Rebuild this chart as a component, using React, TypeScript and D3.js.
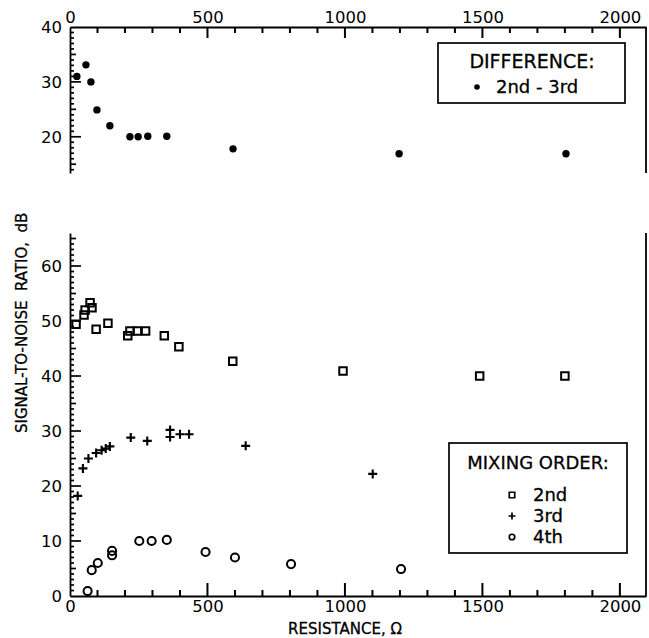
import React, { useEffect, useRef } from 'react';
import * as d3 from 'd3';

// difference 2nd - 3rd (top panel)
const diffR = [25, 58, 76, 98, 145, 218, 248, 283, 352, 593, 1197, 1804];
const diffDb = [31, 33.1, 30, 24.9, 22, 20, 20, 20.1, 20.1, 17.8, 16.9, 16.9];

// mixing order (bottom panel)
const secondR = [22, 51, 55, 73, 80, 95, 138, 210, 218, 245, 275, 343, 396, 592, 993, 1490, 1800];
const secondDb = [49.4, 51.1, 52, 53.3, 52.4, 48.5, 49.6, 47.3, 48.2, 48.2, 48.2, 47.3, 45.3, 42.7, 40.9, 40, 40];

const thirdR = [28, 47, 67, 95, 115, 130, 145, 221, 281, 364, 364, 400, 433, 639, 1101];
const thirdDb = [18.2, 23.2, 25, 26, 26.5, 26.8, 27.2, 28.8, 28.2, 30.2, 28.9, 29.4, 29.4, 27.3, 22.2];

const fourthR = [64, 79, 101, 153, 153, 252, 297, 352, 493, 600, 804, 1204];
const fourthDb = [0.9, 4.7, 6, 8.2, 7.4, 10, 10, 10.2, 8, 7, 5.8, 4.9];

const xTicks = [0, 500, 1000, 1500, 2000];
const topYTicks = [20, 30, 40];
const bottomYTicks = [0, 10, 20, 30, 40, 50, 60];
const legendOrders = ['2nd', '3rd', '4th'];

const FONT = 'DejaVu Sans, sans-serif';
const INK = '#000';

const App = () => {
  const d3Container = useRef(null);

  useEffect(() => {
    if (d3Container.current) {
      drawChart(d3Container.current);
    }
  }, []);

  return <div ref={d3Container} />;
};

function drawChart(container) {
  d3.select(container).selectAll('*').remove();

  const width = 649;
  const height = 638;

  const svg = d3.select(container).append('svg')
    .attr('width', width)
    .attr('height', height)
    .style('position', 'absolute')
    .style('left', 0)
    .style('top', 0)
    .style('background', '#fff')
    .style('font-family', FONT);

  const x = d3.scaleLinear().domain([0, 2095]).range([70, 646]);
  const yTop = d3.scaleLinear().domain([13.4, 40]).range([173, 27]);
  const yBot = d3.scaleLinear().domain([0, 66]).range([596, 233]);
  const fmt = d3.format('d');

  const minorX = d3.range(100, 2001, 100);

  const styleAxis = g => {
    g.selectAll('path, line').attr('stroke', INK).attr('stroke-width', 1.8);
    g.selectAll('text').attr('fill', INK).style('font-family', FONT).style('font-size', '16.5px');
  };

  // ---- axis lines and labels
  svg.append('g')
    .attr('transform', `translate(0,${yTop(40)})`)
    .call(d3.axisTop(x).tickValues(xTicks).tickSize(0).tickSizeOuter(0).tickPadding(4).tickFormat(fmt))
    .call(styleAxis);
  svg.append('g')
    .attr('transform', `translate(${x(0)},0)`)
    .call(d3.axisLeft(yTop).tickValues(topYTicks).tickSize(0).tickSizeOuter(0).tickPadding(8).tickFormat(fmt))
    .call(styleAxis);
  svg.append('line')
    .attr('x1', x.range()[1]).attr('x2', x.range()[1])
    .attr('y1', yTop(40)).attr('y2', yTop.range()[0])
    .attr('stroke', INK).attr('stroke-width', 1.8);

  svg.append('g')
    .attr('transform', `translate(0,${yBot(0)})`)
    .call(d3.axisBottom(x).tickValues(xTicks).tickSize(0).tickSizeOuter(0).tickPadding(4).tickFormat(fmt))
    .call(styleAxis);
  svg.append('g')
    .attr('transform', `translate(${x(0)},0)`)
    .call(d3.axisLeft(yBot).tickValues(bottomYTicks).tickSize(0).tickSizeOuter(0).tickPadding(8).tickFormat(fmt))
    .call(styleAxis);
  svg.append('line')
    .attr('x1', x.range()[1]).attr('x2', x.range()[1])
    .attr('y1', yBot.range()[1]).attr('y2', yBot(0))
    .attr('stroke', INK).attr('stroke-width', 1.8);

  // ---- marks
  svg.append('g').selectAll('circle')
    .data(d3.zip(diffR, diffDb))
    .enter().append('circle')
    .attr('cx', d => x(d[0])).attr('cy', d => yTop(d[1]))
    .attr('r', 3.7).attr('fill', INK);

  const square = d3.symbol(d3.symbolSquare, 56)();
  const ring = d3.symbol(d3.symbolCircle, 52)();
  const plus = 'M-4.5,0H4.5M0,-4.5V4.5';

  svg.append('g').selectAll('path')
    .data(d3.zip(secondR, secondDb))
    .enter().append('path')
    .attr('d', square)
    .attr('transform', d => `translate(${x(d[0])},${yBot(d[1])})`)
    .attr('fill', 'none').attr('stroke', INK).attr('stroke-width', 2);

  svg.append('g').selectAll('path')
    .data(d3.zip(thirdR, thirdDb))
    .enter().append('path')
    .attr('d', plus)
    .attr('transform', d => `translate(${x(d[0])},${yBot(d[1])})`)
    .attr('fill', 'none').attr('stroke', INK).attr('stroke-width', 2.1);

  svg.append('g').selectAll('path')
    .data(d3.zip(fourthR, fourthDb))
    .enter().append('path')
    .attr('d', ring)
    .attr('transform', d => `translate(${x(d[0])},${yBot(d[1])})`)
    .attr('fill', 'none').attr('stroke', INK).attr('stroke-width', 2);

  // ---- axis titles
  svg.append('text')
    .attr('x', 345).attr('y', 634)
    .attr('text-anchor', 'middle')
    .style('font-size', '15px')
    .attr('fill', INK)
    .attr('stroke', INK).attr('stroke-width', 0.3)
    .text('RESISTANCE,  Ω');

  svg.append('text')
    .attr('transform', 'translate(27,433) rotate(-90)')
    .attr('text-anchor', 'start')
    .style('font-size', '15px')
    .style('white-space', 'pre')
    .attr('fill', INK)
    .attr('stroke', INK).attr('stroke-width', 0.3)
    .text('SIGNAL-TO-NOISE  RATIO,  dB');

  // ---- legend: difference
  const leg1 = svg.append('g');
  leg1.append('rect')
    .attr('x', 438).attr('y', 43).attr('width', 187).attr('height', 60)
    .attr('fill', '#fff').attr('stroke', INK).attr('stroke-width', 1.7);
  leg1.append('text')
    .attr('x', 532).attr('y', 68).attr('text-anchor', 'middle')
    .style('font-size', '19px').attr('fill', INK)
    .attr('stroke', INK).attr('stroke-width', 0.3)
    .text('DIFFERENCE:');
  leg1.append('circle').attr('cx', 477).attr('cy', 87).attr('r', 2.8).attr('fill', INK);
  leg1.append('text')
    .attr('x', 496).attr('y', 93)
    .style('font-size', '18px').attr('fill', INK)
    .attr('stroke', INK).attr('stroke-width', 0.3)
    .text('2nd - 3rd');

  // ---- legend: mixing order
  const leg2 = svg.append('g');
  leg2.append('rect')
    .attr('x', 449).attr('y', 443).attr('width', 178).attr('height', 110)
    .attr('fill', '#fff').attr('stroke', INK).attr('stroke-width', 1.7);
  leg2.append('text')
    .attr('x', 538).attr('y', 469).attr('text-anchor', 'middle')
    .style('font-size', '18px').attr('fill', INK)
    .attr('stroke', INK).attr('stroke-width', 0.3)
    .text('MIXING ORDER:');
  const legMarks = [
    d3.symbol(d3.symbolSquare, 30)(),
    'M-3.5,0H3.5M0,-3.5V3.5',
    d3.symbol(d3.symbolCircle, 24)()
  ];
  const rows = leg2.selectAll('g.row')
    .data(legendOrders)
    .enter().append('g')
    .attr('transform', (d, i) => `translate(512,${495 + i * 21})`);
  rows.append('path')
    .attr('d', (d, i) => legMarks[i])
    .attr('fill', 'none').attr('stroke', INK).attr('stroke-width', 1.7);
  rows.append('text')
    .attr('x', 21).attr('y', 6)
    .style('font-size', '18px').attr('fill', INK)
    .attr('stroke', INK).attr('stroke-width', 0.3)
    .text(d => d);

  // ---- inward tick marks, drawn last so nothing sits over them
  const ticks = svg.append('g').attr('class', 'inward-ticks');
  const xTickMarks = (y0, dir, majorLen) => {
    ticks.append('g').selectAll('line')
      .data(minorX)
      .enter().append('line')
      .attr('x1', d => x(d)).attr('x2', d => x(d))
      .attr('y1', y0)
      .attr('y2', d => y0 + dir * (d % 500 === 0 ? majorLen : 6))
      .attr('stroke', INK).attr('stroke-width', 2);
  };
  const yTickMarks = (scale, values) => {
    ticks.append('g').selectAll('line')
      .data(values)
      .enter().append('line')
      .attr('x1', x(0))
      .attr('x2', d => x(0) + (d % 10 === 0 ? 11 : d % 5 === 0 ? 6 : 4))
      .attr('y1', d => scale(d)).attr('y2', d => scale(d))
      .attr('stroke', INK).attr('stroke-width', 1.7);
  };
  xTickMarks(yTop(40), 1, 11);
  xTickMarks(yBot(0), -1, 13);
  yTickMarks(yTop, d3.range(14, 40, 1));
  yTickMarks(yBot, d3.range(1, 66, 1));
}

export default App;
